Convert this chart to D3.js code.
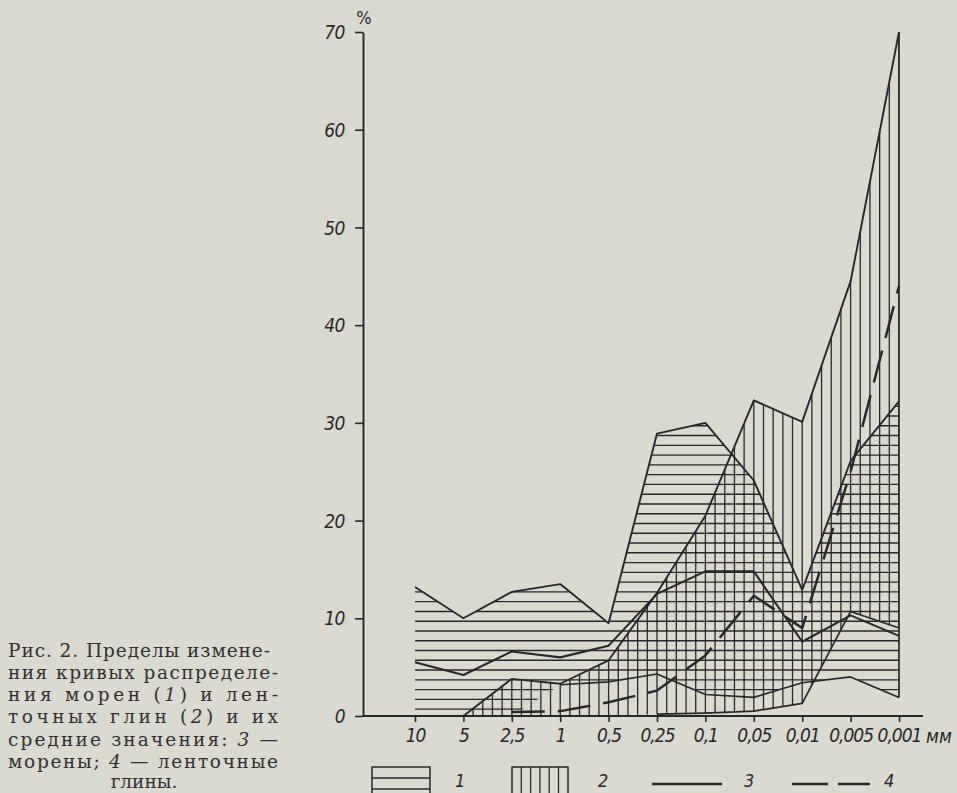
<!DOCTYPE html>
<html><head><meta charset="utf-8">
<script src="https://cdn.jsdelivr.net/npm/d3@7"></script>
<style>
body{margin:0;background:#dbdad1;}
svg{display:block}
</style>
</head><body>
<svg id="c" width="957" height="793"></svg>
<script>
// ---- data ----
const categories   = ["10","5","2,5","1","0,5","0,25","0,1","0,05","0,01","0,005","0,001"];
const moraineUpper = [13.2,10.0,12.7,13.5,9.5,28.9,30.0,24.1,12.9,26.1,32.2];
const moraineLower = [0,0,0,3.2,3.5,4.3,2.2,1.9,3.4,4.0,1.9];
const clayUpper    = [null,0,3.8,3.3,5.7,12.6,20.5,32.3,30.1,44.5,70.0];
const clayLower    = [null,0,0,0,0,0.2,0.3,0.5,1.3,10.7,9.0];
const moraineMean  = [5.5,4.2,6.6,6.0,7.2,12.5,14.8,14.8,7.6,10.3,8.2];
const clayMean     = [null,null,0.4,0.5,1.4,2.6,6.2,12.3,9.0,25.0,44.0];
const yTicks       = [0,10,20,30,40,50,60,70];
const legendLabels = ["1","2","3","4"];
const captionLines = [
  "Рис. 2. Пределы измене-",
  "ния кривых распределе-",
  "ния морен (|1|) и лен-",
  "точных глин (|2|) и их",
  "средние значения: |3| —",
  "морены; |4| — ленточные",
  "глины."
];

const ink = "#282828";
const svg = d3.select("#c");
svg.append("rect").attr("width",957).attr("height",793).attr("fill","#dbdad1");

const x = d3.scalePoint().domain(categories).range([415, 899]);
const y = d3.scaleLinear().domain([0, 70]).range([716, 32]);
const axisX = 363;
const idx = d3.range(categories.length);
const X = i => x(categories[i]);

const defs = svg.append("defs");
const areaGen = (lo, hi) => d3.area()
  .defined(i => hi[i] != null && lo[i] != null)
  .x(X).y0(i => y(lo[i])).y1(i => y(hi[i]));

defs.append("clipPath").attr("id","clipM").append("path").attr("d", areaGen(moraineLower, moraineUpper)(idx));
defs.append("clipPath").attr("id","clipC").append("path").attr("d", areaGen(clayLower, clayUpper)(idx));

// horizontal hatching (moraines)
const gh = svg.append("g").attr("clip-path","url(#clipM)");
for (let v = 0.7; v < 34; v += 1) {
  gh.append("line").attr("x1", X(0)).attr("x2", X(10)).attr("y1", y(v)).attr("y2", y(v))
    .attr("stroke", ink).attr("stroke-width", 1.4);
}
// vertical hatching (ribbon clays)
const gv = svg.append("g").attr("clip-path","url(#clipC)");
const step = x.step();
for (let i = 1; i < categories.length; i++) {
  for (let j = 0; j < 5; j++) {
    const xx = X(i) + j * step / 5;
    if (xx > X(10)) break;
    gv.append("line").attr("x1", xx).attr("x2", xx).attr("y1", y(0)).attr("y2", y(70))
      .attr("stroke", ink).attr("stroke-width", 1.3);
  }
}
// band 2 right edge
const last = categories.length - 1;
svg.append("line").attr("x1", X(last)).attr("x2", X(last))
  .attr("y1", y(Math.min(clayLower[last], moraineLower[last]))).attr("y2", y(clayUpper[last]))
  .attr("stroke", ink).attr("stroke-width", 1.7);

// outlines
const lineGen = (arr, def) => d3.line().defined(i => arr[i] != null && def(arr[i])).x(X).y(i => y(arr[i]));
const outline = (arr, def, w) => svg.append("path").attr("d", lineGen(arr, def)(idx))
  .attr("fill","none").attr("stroke", ink).attr("stroke-width", w).attr("stroke-linejoin","round");
outline(moraineUpper, () => true, 1.9);
outline(moraineLower, v => v > 0, 1.7);
outline(clayUpper, () => true, 1.9);
outline(clayLower, v => v > 0, 1.7);
// mean curves
outline(moraineMean, () => true, 2.1);
outline(clayMean, () => true, 2.5).attr("stroke-dasharray","33,13");

// axes
const fontNum = "'Liberation Sans Narrow', 'DejaVu Sans Condensed', sans-serif";
const yAxis = svg.append("g").attr("transform", `translate(${axisX},0)`)
  .call(d3.axisLeft(y).tickValues(yTicks).tickSize(8).tickSizeOuter(0).tickFormat(d3.format("d")));
yAxis.select(".domain").attr("stroke", ink).attr("stroke-width", 1.9);
yAxis.selectAll(".tick line").attr("stroke", ink).attr("stroke-width", 1.6);
yAxis.selectAll(".tick text").attr("x", -18).attr("dy","0.35em")
  .attr("font-family", fontNum).attr("font-style","italic").attr("font-size", 19)
  .attr("letter-spacing", -0.5).attr("fill", ink);

const xAxis = svg.append("g").attr("transform", `translate(0,${y(0)})`)
  .call(d3.axisBottom(x).tickSize(6).tickSizeOuter(0));
xAxis.select(".domain").remove();
xAxis.selectAll(".tick line").attr("stroke", ink).attr("stroke-width", 1.6);
xAxis.selectAll(".tick text").attr("y", 13).attr("dy","0.71em")
  .attr("font-family", fontNum).attr("font-style","italic").attr("font-size", 19)
  .attr("letter-spacing", -1).attr("fill", ink);
svg.append("line").attr("x1", axisX).attr("x2", 923).attr("y1", y(0)).attr("y2", y(0))
  .attr("stroke", ink).attr("stroke-width", 1.9);

svg.append("text").attr("x", axisX + 1).attr("y", 24).attr("text-anchor","middle")
  .attr("font-family", fontNum).attr("font-size", 18).attr("fill", ink).text("%");
svg.append("text").attr("x", 926).attr("y", 743)
  .attr("font-family", fontNum).attr("font-style","italic").attr("font-size", 19)
  .attr("fill", ink).text("мм");

// legend
const lg = svg.append("g").attr("stroke", ink).attr("fill","none");
lg.append("rect").attr("x",372).attr("y",767).attr("width",58).attr("height",40).attr("stroke-width",1.5);
[778, 789].forEach(v => lg.append("line").attr("x1",372).attr("x2",430).attr("y1",v).attr("y2",v).attr("stroke-width",1.4));
lg.append("rect").attr("x",512).attr("y",767).attr("width",56).attr("height",40).attr("stroke-width",1.5);
d3.range(1,6).forEach(k => lg.append("line").attr("x1",512+k*9.3).attr("x2",512+k*9.3).attr("y1",767).attr("y2",800).attr("stroke-width",1.3));
lg.append("line").attr("x1",652).attr("x2",722).attr("y1",784).attr("y2",784).attr("stroke-width",2.3);
lg.append("line").attr("x1",792).attr("x2",870).attr("y1",784).attr("y2",784).attr("stroke-width",2.7).attr("stroke-dasharray","36,10");
const legX = [455, 598, 744, 884];
legendLabels.forEach((t, k) => svg.append("text").attr("x", legX[k]).attr("y", 787)
  .attr("font-family", fontNum).attr("font-style","italic").attr("font-size", 18).attr("fill", ink).text(t));

// caption
const capFont = "'DejaVu Serif', 'Liberation Serif', serif";
const capY = [657, 679, 701, 723, 746, 768, 788];
captionLines.forEach((ln, k) => {
  const t = svg.append("text").attr("y", capY[k]).attr("font-family", capFont).attr("font-size", 18.5)
    .attr("fill", "#303030");
  const parts = ln.split("|");
  parts.forEach((p, pi) => t.append("tspan").attr("font-style", pi % 2 ? "italic" : "normal").text(p));
  if (k < captionLines.length - 1) {
    t.attr("x", 8).attr("textLength", k === 0 ? 262 : 270).attr("lengthAdjust","spacing");
  } else {
    t.attr("x", 144).attr("text-anchor","middle");
  }
});
</script>
</body></html>
